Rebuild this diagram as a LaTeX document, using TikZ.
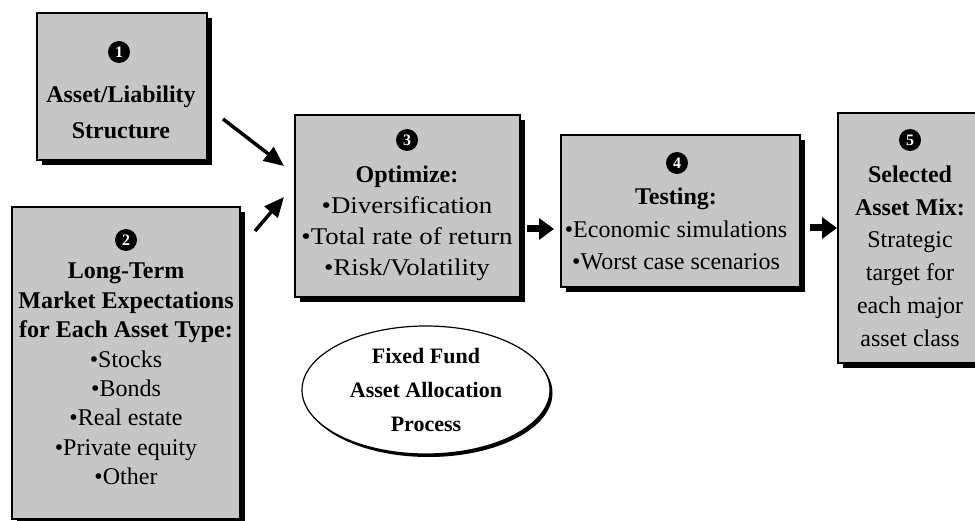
\documentclass[tikz,border=0pt]{standalone}
\usepackage{fontspec}
\setmainfont{Liberation Serif}
\newfontfamily\widerg[FakeStretch=1.12]{Liberation Serif}
\usetikzlibrary{shadows,arrows.meta,shapes.geometric}
\definecolor{boxgray}{RGB}{198,198,198}
\tikzset{
  stepbox/.style={draw=black, line width=1.8pt, fill=boxgray, rectangle, inner sep=0pt,
    drop shadow={shadow xshift=5pt, shadow yshift=-5pt, fill=black, opacity=1}},
  numc/.style={circle, fill=black, text=white, inner sep=0pt, minimum size=22pt,
    font=\fontsize{16}{16}\selectfont\bfseries},
  txt/.style={align=center, inner sep=0pt, text=black},
  bigarrow/.style={line width=3.5pt, -{Triangle[length=20pt,width=17pt]}},
  blockarrow/.style={line width=7pt, -{Triangle[length=15pt,width=21pt]}},
}
\newcommand{\hd}{\bfseries}
\begin{document}
\begin{tikzpicture}[x=1pt,y=-1pt]
\clip (0,0) rectangle (975,521);
\fill[white] (0,0) rectangle (975,521);

% boxes
\node[stepbox, minimum width=170pt, minimum height=147pt] (b1) at (122,86.5) {};
\node[stepbox, minimum width=228pt, minimum height=312pt] (b2) at (126,363) {};
\node[stepbox, minimum width=225pt, minimum height=182pt] (b3) at (407.5,206) {};
\node[stepbox, minimum width=239pt, minimum height=152pt] (b4) at (680.5,211) {};
\node[stepbox, minimum width=147pt, minimum height=250pt] (b5) at (911.5,238) {};

% numbers
\node[numc] (n1) at (119,52) {1};
\node[numc] (n2) at (126,240) {2};
\node[numc] (n3) at (407,140) {3};
\node[numc] (n4) at (677,163) {4};
\node[numc] (n5) at (910,140) {5};

% texts
\node[txt, font=\fontsize{24}{36}\selectfont] (t1) at (121,112) {\hd Asset/Liability\\ \hd Structure};
\node[txt, font=\fontsize{24}{29.4}\selectfont] (t2) at (126,374)
  {\hd Long-Term\\ \hd Market Expectations\\ \hd for Each Asset Type:\\
   •Stocks\\ •Bonds\\ •Real estate\\ •Private equity\\ •Other};
\node[txt, font=\fontsize{24}{31}\selectfont] (t3) at (407,223)
  {\hd Optimize:\\ \widerg •Diversification\\ \widerg •Total rate of return\\ \widerg •Risk/Volatility};
\node[txt, font=\fontsize{24}{32.5}\selectfont] (t4) at (676,229)
  {\hd Testing:\\ •Economic simulations\\ •Worst case scenarios};
\node[txt, font=\fontsize{24}{32.8}\selectfont] (t5) at (910,256)
  {\hd Selected\\ \hd Asset Mix:\\ Strategic\\ target for\\ each major\\ asset class};

% ellipse
\node[ellipse, draw=black, line width=1.2pt, fill=white, minimum width=248pt, minimum height=128pt,
  drop shadow={shadow xshift=2.5pt, shadow yshift=-3pt, fill=black, opacity=1}] (ell) at (426,390) {};
\node[txt, font=\fontsize{22}{34}\selectfont\bfseries] (te) at (426,390)
  {Fixed Fund\\ Asset Allocation\\ Process};

% arrows
\coordinate (a1s) at (223,119);
\coordinate (a1e) at (284,166);
\coordinate (a2s) at (255,231);
\coordinate (a2e) at (284,197);
\coordinate (a34s) at (527,229);
\coordinate (a34e) at (554,229);
\coordinate (a45s) at (810,228);
\coordinate (a45e) at (837,228);
\draw[bigarrow] (a1s) -- (a1e);
\draw[bigarrow] (a2s) -- (a2e);
\draw[blockarrow] (a34s) -- (a34e);
\draw[blockarrow] (a45s) -- (a45e);
\end{tikzpicture}
\end{document}
